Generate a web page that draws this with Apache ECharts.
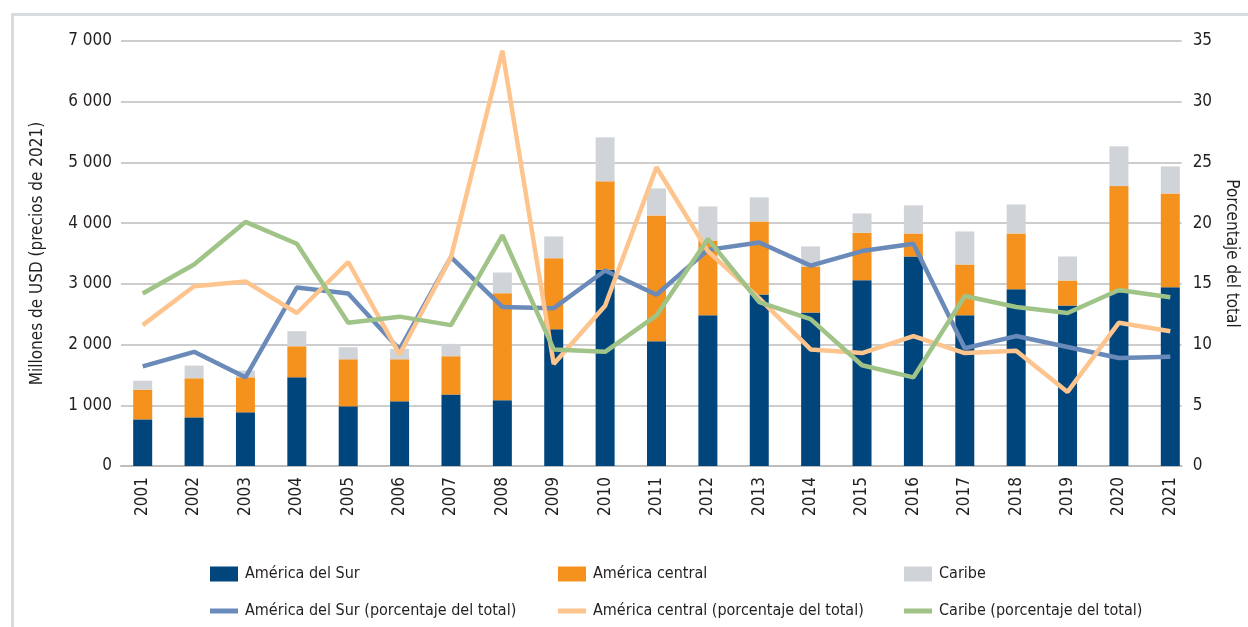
<!DOCTYPE html>
<html>
<head>
  <meta charset="UTF-8">
  <title>América Latina y el Caribe</title>
  <script src="https://cdn.jsdelivr.net/npm/echarts@6/dist/echarts.min.js"></script>
  <style>
    html, body { margin: 0; padding: 0; background: #fff; }
    #frame { position: absolute; left: 11px; top: 13px; width: 1300px; height: 700px;
             border-left: 3px solid #d8dcdf; border-top: 3px solid #d8dcdf; }
    #main { position: absolute; left: 0; top: 0; width: 1248px; height: 627px; }
  </style>
</head>
<body>
<div id="frame"></div>
<div id="main"></div>
<script type="text/javascript">
  var years = ['2001','2002','2003','2004','2005','2006','2007','2008','2009','2010','2011',
               '2012','2013','2014','2015','2016','2017','2018','2019','2020','2021'];
  // millones de USD
  var sur     = [768, 801, 884, 1461, 983, 1065, 1176, 1082, 2253, 3232, 2054, 2483, 2824, 2528, 3060, 3451, 2483, 2912, 2643, 2862, 2945];
  var central = [490, 644, 577, 511, 775, 693, 632, 1764, 1170, 1456, 2073, 1232, 1204, 758, 782, 379, 836, 918, 412, 1748, 1545];
  var caribe  = [148, 209, 110, 248, 198, 172, 203, 341, 358, 725, 445, 560, 396, 330, 318, 462, 544, 478, 396, 655, 445];
  // porcentaje del total
  var surPct     = [8.2, 9.4, 7.3, 14.7, 14.2, 9.6, 17.2, 13.1, 13.0, 16.1, 14.1, 17.8, 18.4, 16.5, 17.7, 18.3, 9.7, 10.7, 9.8, 8.9, 9.0];
  var centralPct = [11.6, 14.8, 15.2, 12.6, 16.8, 9.2, 17.2, 34.2, 8.4, 13.2, 24.6, 17.7, 13.8, 9.6, 9.3, 10.7, 9.3, 9.5, 6.1, 11.8, 11.1];
  var caribePct  = [14.2, 16.6, 20.1, 18.3, 11.8, 12.3, 11.6, 19.0, 9.6, 9.4, 12.4, 18.7, 13.5, 12.1, 8.3, 7.3, 14.0, 13.1, 12.6, 14.5, 13.9];

  var font = '"DejaVu Sans Condensed", "Liberation Sans Narrow", sans-serif';
  var txt = '#231f20';

  function fmtMil(v){
    return v >= 1000 ? Math.floor(v / 1000) + ' ' + ('00' + (v % 1000)).slice(-3) : String(v);
  }
  function legendCol(left, names){
    return names.map(function(n, i){
      return {
        data: [{ name: n, icon: 'rect' }], left: left, top: i === 0 ? 561 : 598,
        itemWidth: 28, itemHeight: i === 0 ? 15 : 5, itemGap: 0, selectedMode: false,
        textStyle: { fontFamily: font, fontSize: 16, color: txt, padding: [0, 0, 0, 2] }
      };
    });
  }

  var chart = echarts.init(document.getElementById('main'));
  chart.setOption({
    animation: false,
    textStyle: { fontFamily: font },
    grid: [
      { left: 121, right: 64, top: 41, bottom: 161 },
      { left: 117, right: 52, top: 41, bottom: 161 }
    ],
    legend: [].concat(
      legendCol(205, ['América del Sur', 'América del Sur (porcentaje del total)']),
      legendCol(553, ['América central', 'América central (porcentaje del total)']),
      legendCol(899, ['Caribe', 'Caribe (porcentaje del total)'])
    ),
    xAxis: [
      { type: 'category', gridIndex: 0, data: years,
        axisLine: { lineStyle: { color: '#bdbdbd', width: 2 } },
        axisTick: { show: false }, axisLabel: { show: false } },
      { type: 'category', gridIndex: 1, data: years,
        axisLine: { show: false }, axisTick: { show: false },
        axisLabel: { rotate: 90, margin: 11, fontSize: 17, color: txt, fontFamily: font } }
    ],
    yAxis: [
      { type: 'value', gridIndex: 0, min: 0, max: 7000, interval: 1000,
        name: 'Millones de USD (precios de 2021)', nameLocation: 'middle', nameGap: 75, nameRotate: 90,
        nameTextStyle: { fontSize: 17, color: txt, fontFamily: font },
        axisLine: { show: false }, axisTick: { show: false },
        axisLabel: { margin: 9, fontSize: 17, color: txt, fontFamily: font, formatter: fmtMil },
        splitLine: { lineStyle: { color: '#bdbdbd', width: 1.5 } } },
      { type: 'value', gridIndex: 0, position: 'right', min: 0, max: 35, interval: 5,
        name: 'Porcentaje del total', nameLocation: 'middle', nameGap: 40, nameRotate: -90,
        nameTextStyle: { fontSize: 17, color: txt, fontFamily: font },
        axisLine: { show: false }, axisTick: { show: false },
        axisLabel: { margin: 11, fontSize: 17, color: txt, fontFamily: font },
        splitLine: { show: false } },
      { type: 'value', gridIndex: 1, min: 0, max: 7000, show: false, splitLine: { show: false } },
      { type: 'value', gridIndex: 1, min: 0, max: 35, show: false, splitLine: { show: false } }
    ],
    series: [
      { name: 'América del Sur', type: 'bar', stack: 'm', xAxisIndex: 1, yAxisIndex: 2,
        barWidth: 19, itemStyle: { color: '#00457c' }, data: sur },
      { name: 'América central', type: 'bar', stack: 'm', xAxisIndex: 1, yAxisIndex: 2,
        barWidth: 19, itemStyle: { color: '#f5921e' }, data: central },
      { name: 'Caribe', type: 'bar', stack: 'm', xAxisIndex: 1, yAxisIndex: 2,
        barWidth: 19, itemStyle: { color: '#d0d4d8' }, data: caribe },
      { name: 'América del Sur (porcentaje del total)', type: 'line', xAxisIndex: 1, yAxisIndex: 3,
        symbol: 'none', lineStyle: { width: 4.5, color: '#6a8ab9' }, itemStyle: { color: '#6a8ab9' }, data: surPct },
      { name: 'América central (porcentaje del total)', type: 'line', xAxisIndex: 1, yAxisIndex: 3,
        symbol: 'none', lineStyle: { width: 4.5, color: '#fdc48e' }, itemStyle: { color: '#fdc48e' }, data: centralPct },
      { name: 'Caribe (porcentaje del total)', type: 'line', xAxisIndex: 1, yAxisIndex: 3,
        symbol: 'none', lineStyle: { width: 4.5, color: '#a0c387' }, itemStyle: { color: '#a0c387' }, data: caribePct }
    ]
  });
</script>
</body>
</html>
